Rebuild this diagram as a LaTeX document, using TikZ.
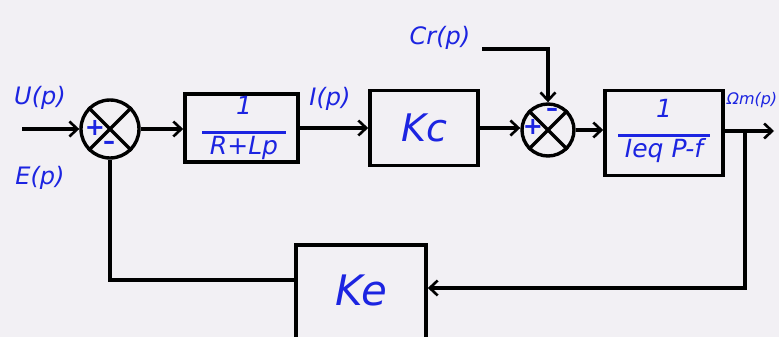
\documentclass[tikz,border=0pt]{standalone}
\usepackage{fontspec}
\setmainfont{DejaVu Sans}
\usetikzlibrary{arrows.meta}
\definecolor{paper}{RGB}{242,240,244}
\definecolor{ink}{RGB}{28,36,225}
\begin{document}
\begin{tikzpicture}[x=1pt,y=-1pt,
  wire/.style={line width=3.2pt,black},
  arr/.style={wire,-{Straight Barb[length=8pt,width=15pt,line width=2.6pt]}},
  blk/.style={draw,line width=3.6pt,rectangle,inner sep=0pt},
  sumc/.style={draw,line width=3.4pt,circle,inner sep=0pt},
  lbl/.style={text=ink,font=\fontsize{24}{26}\selectfont\itshape},
  fracs/.style={text=ink,align=center,font=\fontsize{25}{24}\selectfont\itshape},
  sgn/.style={text=ink,font=\fontsize{24}{24}\selectfont\bfseries,inner sep=0pt}]
\fill[paper] (0,0) rectangle (779,337);
\useasboundingbox (0,0) rectangle (779,337);
% coordinates
\coordinate (in) at (22,129);
\coordinate (out) at (774,131);
\coordinate (br) at (745,131);
\coordinate (fb) at (745,288);
\coordinate (fl) at (106,280);
\coordinate (crs) at (482,49);
% blocks
\node[sumc,minimum size=58pt] (s1) at (110,129) {};
\node[blk,minimum width=113pt,minimum height=68pt] (b1) at (241.5,128) {};
\node[fracs] (f1) at (244,128) {1\\[-5pt]\rule{84pt}{3pt}\\[-3pt]R+Lp};
\node[blk,minimum width=108pt,minimum height=75pt] (b2) at (424,128)
  {\color{ink}\fontsize{38}{40}\selectfont\itshape Kc};
\node[sumc,minimum size=52pt] (s2) at (548,130) {};
\node[blk,minimum width=118pt,minimum height=85pt] (b3) at (664,133) {};
\node[fracs] (f3) at (664,131) {1\\[-5pt]\rule{92pt}{3pt}\\[-3pt]Ieq P-f};
\node[blk,minimum width=130pt,minimum height=110pt] (ke) at (361,300) {};
\node[text=ink,font=\fontsize{42}{44}\selectfont\itshape] (kel) at (361,290) {Ke};
% crosses
\draw[line width=3.2pt] (s1.north west) -- (s1.south east) (s1.north east) -- (s1.south west);
\draw[line width=3.2pt] (s2.north west) -- (s2.south east) (s2.north east) -- (s2.south west);
% signs
\node[sgn] (p1) at (95,128) {+};
\node[sgn] (m1) at (109,145) {–};
\node[sgn] (m2) at (552,112) {–};
\node[sgn] (p2) at (533,127) {+};
% labels
\node[lbl] (lu) at (40,98) {U(p)};
\node[lbl] (le) at (40,178) {E(p)};
\node[lbl] (li) at (330,99) {I(p)};
\node[lbl] (lc) at (440,38) {Cr(p)};
\node[lbl,font=\fontsize{16}{18}\selectfont\itshape] (lo) at (752,100) {Ωm(p)};
% connectors
\draw[arr] (in) -- (s1.west);
\draw[arr] (s1.east) -- (b1.west |- s1.east);
\draw[arr] (b1.east) -- (b2.west);
\draw[arr] (b2.east) -- (s2.west |- b2.east);
\draw[arr] (s2.east) -- (b3.west |- s2.east);
\draw[arr] (b3.east |- out) -- (out);
\draw[arr] (br) -- (fb) -- (ke.east |- fb);
\draw[wire] (ke.west |- fl) -- (s1.south |- fl) -- (s1.south);
\draw[arr] (crs) -| (s2.north);
\end{tikzpicture}
\end{document}
